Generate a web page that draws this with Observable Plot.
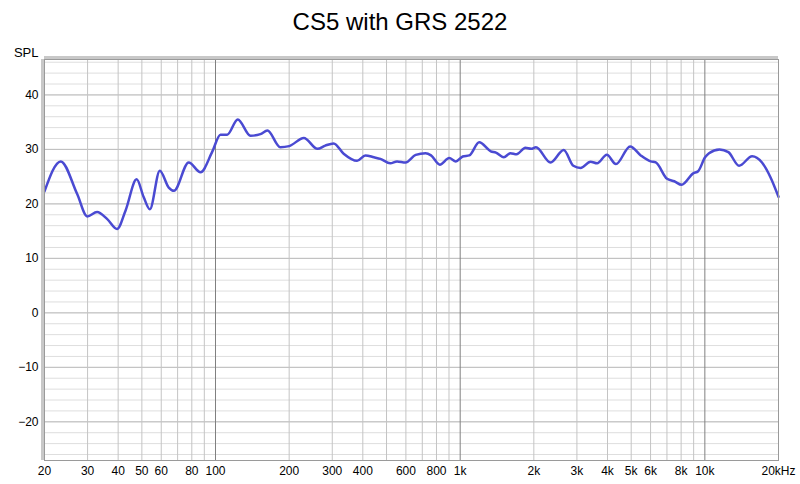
<!DOCTYPE html>
<html><head><meta charset="utf-8">
<script src="https://cdn.jsdelivr.net/npm/d3@7"></script>
<script src="https://cdn.jsdelivr.net/npm/@observablehq/plot@0.6"></script>
<style>
body{margin:0;background:#fff;font-family:"Liberation Sans",Arial,sans-serif;}
#title{height:40px;line-height:44px;text-align:center;font-size:24px;color:#000;}
</style></head><body>
<div id="title">CS5 with GRS 2522</div>
<div id="chart"></div>
<script>
const freq = [20, 23.3, 27.2, 29.9, 32.8, 36.1, 39.6, 42.9, 47.6, 50.9, 53.9, 59.2, 64.4, 67.6, 77.7, 86.9, 96.8, 104.8, 111.6, 123.3, 139, 152.6, 163, 184, 200, 229.6, 261, 281, 304, 334, 379, 410, 444, 472, 518, 552, 598, 658, 722, 760, 826, 902, 960, 1024, 1090, 1196, 1334, 1400, 1508, 1604, 1700, 1848, 1950, 2040, 2340, 2650, 2900, 3106, 3410, 3628, 3976, 4332, 4950, 5470, 6006, 6300, 7010, 7500, 8040, 8960, 9390, 10020, 10400, 11480, 12480, 13800, 15600, 17120, 18540, 20000];
const spl = [22.3, 27.8, 21.8, 17.7, 18.5, 17.2, 15.4, 18.8, 24.5, 21.2, 19.0, 26.1, 23.0, 22.4, 27.6, 25.8, 29.5, 32.7, 32.7, 35.5, 32.5, 32.8, 33.45, 30.4, 30.6, 32.1, 30.1, 30.7, 31.1, 29.2, 27.9, 28.9, 28.55, 28.25, 27.45, 27.8, 27.6, 29.0, 29.3, 28.9, 27.2, 28.4, 27.8, 28.7, 28.9, 31.3, 29.65, 29.4, 28.55, 29.3, 29.1, 30.3, 30.1, 30.4, 27.6, 29.9, 27.0, 26.6, 27.75, 27.45, 29.0, 27.3, 30.55, 28.9, 27.8, 27.6, 24.6, 24.15, 23.5, 25.6, 26.0, 28.55, 29.3, 30.0, 29.5, 27.0, 28.75, 27.6, 24.9, 21.3];
const xTickValues = [20,30,40,50,60,80,100,200,300,400,600,800,1000,2000,3000,4000,5000,6000,8000,10000,20000];
const xTickLabels = ["20","30","40","50","60","80","100","200","300","400","600","800","1k","2k","3k","4k","5k","6k","8k","10k","20kHz"];
const yTicks = [-20,-10,0,10,20,30,40];
const xGridMajor = [100,1000,10000];
const xGridMinor = [20,30,40,50,60,70,80,90,200,300,400,500,600,700,800,900,2000,3000,4000,5000,6000,7000,8000,9000,20000];
const yGridMinor = d3.range(-26, 47, 2);
const xDomain = [20, 20000];
const yDomain = [-27.1, 46.5];

const data = freq.map((f, i) => ({f, v: spl[i]}));
const xLabels = xTickValues.map((f, i) => ({f, label: xTickLabels[i]}));

const chart = Plot.plot({
  width: 800, height: 444,
  marginTop: 19, marginBottom: 24, marginLeft: 44, marginRight: 22,
  style: {fontFamily: "'Liberation Sans', Arial, sans-serif", fontSize: "12px", color: "#000", background: "#fff"},
  x: {type: "log", domain: xDomain, axis: null},
  y: {domain: yDomain, ticks: yTicks, tickSize: 0, tickPadding: 6, label: null},
  marks: [
    Plot.ruleY(yGridMinor, {stroke: "#dedede"}),
    Plot.ruleY(yTicks, {stroke: "#bdbdbd"}),
    Plot.ruleX(xGridMinor, {stroke: "#c4c4c4"}),
    Plot.ruleX(xGridMajor, {stroke: "#808080"}),
    Plot.line(data, {x: "f", y: "v", stroke: "#4a4ad2", strokeWidth: 2.5, curve: "monotone-x"}),
    Plot.ruleX([xDomain[0]], {stroke: "#c8c8c8", strokeWidth: 3, dx: -2}),
    Plot.ruleY([yDomain[1]], {stroke: "#c8c8c8", strokeWidth: 3, dy: -2}),
    Plot.frame({stroke: "#9a9a9a"}),
    Plot.text(xLabels, {x: "f", text: "label", frameAnchor: "bottom", dy: 11, lineAnchor: "middle", fontSize: 12, fill: "#000"}),
    Plot.text(["SPL"], {frameAnchor: "top-left", dx: -6, dy: -12, textAnchor: "end", fontSize: 13, fill: "#000"})
  ]
});
document.getElementById("chart").appendChild(chart);
</script>
</body></html>
